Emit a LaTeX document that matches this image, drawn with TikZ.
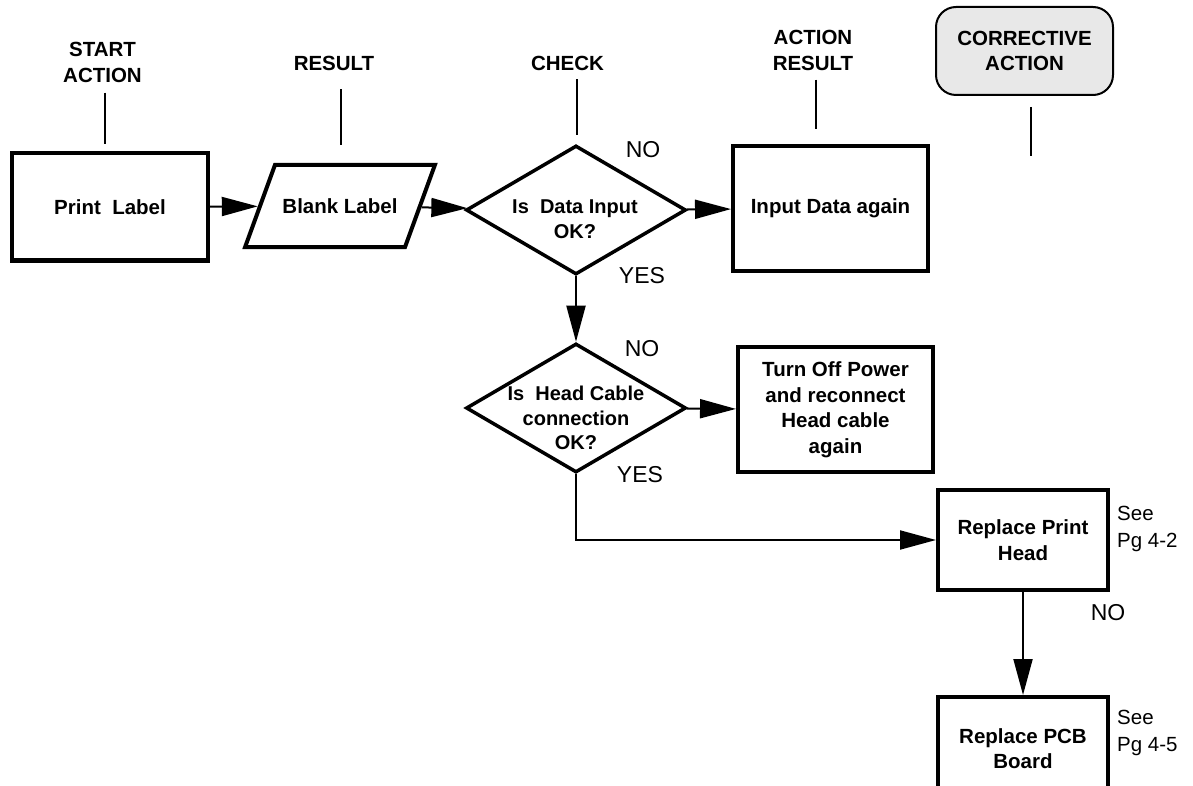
\documentclass[tikz,border=0pt]{standalone}
\usepackage{fontspec}
\setmainfont{Liberation Sans}
\usetikzlibrary{arrows.meta}
\usetikzlibrary{shapes.geometric}

\tikzset{
  boldtxt/.style={font=\fontsize{20.5}{25.5}\selectfont\bfseries, align=center},
  header/.style={boldtxt, inner sep=0pt},
  actbox/.style={boldtxt, draw, line width=4pt, inner sep=0pt},
  resbox/.style={boldtxt, draw, line width=4pt, trapezium, trapezium left angle=70,
    trapezium right angle=110, inner xsep=7.5pt, inner ysep=33.5pt},
  chkbox/.style={draw, line width=3.5pt, diamond, inner sep=0pt,
    minimum width=220pt, minimum height=129pt},
  chktxt/.style={font=\fontsize{20}{24.5}\selectfont\bfseries, align=center, inner sep=0pt},
  answer/.style={font=\fontsize{23}{27}\selectfont, inner sep=0pt},
  seenote/.style={font=\fontsize{20.5}{27.5}\selectfont, align=left, anchor=west, inner sep=0pt},
  tick/.style={line width=2pt},
  flow/.style={line width=2pt, ->},
}

\begin{document}
\begin{tikzpicture}[x=1pt, y=-1pt, >={Triangle[length=36pt, width=19pt]}]
  \useasboundingbox (0,0) rectangle (1193,786);

  \node[header] (hstart) at (102.5,62.5) {START\\ACTION};
  \node[header] (hres) at (334,63) {RESULT};
  \node[header] (hchk) at (567.5,63) {CHECK};
  \node[header] (hact) at (813,50.5) {ACTION\\RESULT};
  \node[header, draw, line width=2pt, fill=gray!18, rounded corners=20pt,
    minimum width=177pt, minimum height=88pt] (hcor) at (1024.5,51) {CORRECTIVE\\ACTION};
  \foreach \h/\dx/\g/\l in {hstart/2.5/10/51, hres/7/19/56, hchk/9.5/9/56, hact/3/9/49, hcor/6.5/11/49}
    \draw[tick] ([xshift=\dx pt, yshift=-\g pt]\h.south) -- ++(0,\l);

  \node[actbox, minimum width=196pt, minimum height=107pt] (print) at (110,207) {Print\ \ Label};
  \node[resbox] (blank) at (340,206) {Blank Label};
  \node[chkbox] (data) at (576,210) {};
  \node[chktxt] (dataq) at (575,219) {Is\ \ Data Input\\OK?};
  \node[actbox, minimum width=195pt, minimum height=125pt] (again) at (830.5,208.5) {Input Data again};
  \node[chkbox] (cable) at (576,408) {};
  \node[chktxt] (cableq) at (576,418) {Is\ \ Head Cable\\connection\\OK?};
  \node[actbox, minimum width=195pt, minimum height=125pt] (power) at (835.5,409.5)
    {Turn Off Power\\and reconnect\\Head cable\\again};
  \node[actbox, minimum width=170pt, minimum height=100pt] (head) at (1023,540) {Replace Print\\Head};
  \node[actbox, minimum width=170pt, minimum height=103pt] (pcb) at (1023,748.5) {Replace PCB\\Board};

  \node[answer] (no1) at (643,150) {NO};
  \node[answer] (yes1) at (642,276) {YES};
  \node[answer] (no2) at (642,349) {NO};
  \node[answer] (yes2) at (640,475) {YES};
  \node[answer] (no3) at (1108,613) {NO};
  \node[seenote] (see1) at (1117,529) {See\\Pg 4-2};
  \node[seenote] (see2) at (1117,733) {See\\Pg 4-5};

  \draw[flow] (print) -- (blank);
  \draw[flow] (blank) -- (data);
  \draw[flow] (data) -- (again);
  \draw[flow] (data) -- (cable);
  \draw[flow] (cable) -- (power);
  \draw[flow] (cable.south) |- (head.west);
  \draw[flow] (head) -- (pcb);
\end{tikzpicture}
\end{document}
